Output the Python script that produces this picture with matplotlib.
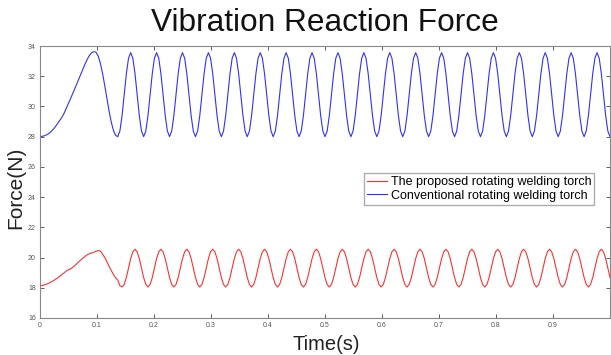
import numpy as np
import matplotlib
matplotlib.use("Agg")
import matplotlib.pyplot as plt

plt.rcParams['font.family'] = ['Liberation Sans', 'DejaVu Sans']

# sampled on a uniform time grid, 0 .. 1 s (265 samples)
time_s = np.linspace(0, 1, 265)

# conventional torch (blue)
force_conventional = [
    28.00, 28.02, 28.06, 28.12, 28.20, 28.32, 28.47, 28.64, 28.84, 29.03,
    29.25, 29.50, 29.82, 30.14, 30.47, 30.80, 31.14, 31.48, 31.82, 32.15,
    32.50, 32.85, 33.15, 33.40, 33.56, 33.63, 33.58, 33.32, 32.83, 32.17,
    31.37, 30.52, 29.69, 28.97, 28.42, 28.09, 28.00,
    28.37, 29.39, 30.78, 32.17, 33.19, 33.56, 33.19, 32.17, 30.78, 29.39, 28.37, 28.00,
    28.37, 29.39, 30.78, 32.17, 33.19, 33.56, 33.19, 32.17, 30.78, 29.39, 28.37, 28.00,
    28.37, 29.39, 30.78, 32.17, 33.19, 33.56, 33.19, 32.17, 30.78, 29.39, 28.37, 28.00,
    28.37, 29.39, 30.78, 32.17, 33.19, 33.56, 33.19, 32.17, 30.78, 29.39, 28.37, 28.00,
    28.37, 29.39, 30.78, 32.17, 33.19, 33.56, 33.19, 32.17, 30.78, 29.39, 28.37, 28.00,
    28.37, 29.39, 30.78, 32.17, 33.19, 33.56, 33.19, 32.17, 30.78, 29.39, 28.37, 28.00,
    28.37, 29.39, 30.78, 32.17, 33.19, 33.56, 33.19, 32.17, 30.78, 29.39, 28.37, 28.00,
    28.37, 29.39, 30.78, 32.17, 33.19, 33.56, 33.19, 32.17, 30.78, 29.39, 28.37, 28.00,
    28.37, 29.39, 30.78, 32.17, 33.19, 33.56, 33.19, 32.17, 30.78, 29.39, 28.37, 28.00,
    28.37, 29.39, 30.78, 32.17, 33.19, 33.56, 33.19, 32.17, 30.78, 29.39, 28.37, 28.00,
    28.37, 29.39, 30.78, 32.17, 33.19, 33.56, 33.19, 32.17, 30.78, 29.39, 28.37, 28.00,
    28.37, 29.39, 30.78, 32.17, 33.19, 33.56, 33.19, 32.17, 30.78, 29.39, 28.37, 28.00,
    28.37, 29.39, 30.78, 32.17, 33.19, 33.56, 33.19, 32.17, 30.78, 29.39, 28.37, 28.00,
    28.37, 29.39, 30.78, 32.17, 33.19, 33.56, 33.19, 32.17, 30.78, 29.39, 28.37, 28.00,
    28.37, 29.39, 30.78, 32.17, 33.19, 33.56, 33.19, 32.17, 30.78, 29.39, 28.37, 28.00,
    28.37, 29.39, 30.78, 32.17, 33.19, 33.56, 33.19, 32.17, 30.78, 29.39, 28.37, 28.00,
    28.37, 29.39, 30.78, 32.17, 33.19, 33.56, 33.19, 32.17, 30.78, 29.39, 28.37, 28.00,
    28.37, 29.39, 30.78, 32.17, 33.19, 33.56, 33.19, 32.17, 30.78, 29.39, 28.37, 28.00,
    28.37, 29.39, 30.78, 32.17, 33.19, 33.56, 33.19, 32.17, 30.78, 29.39, 28.37, 28.00,
]

# proposed torch (red)
force_proposed = [
    18.11, 18.15, 18.19, 18.24, 18.30, 18.37, 18.45, 18.54, 18.64, 18.74,
    18.85, 18.97, 19.09, 19.18, 19.24, 19.33, 19.46, 19.59, 19.72, 19.85,
    19.98, 20.09, 20.19, 20.26, 20.31, 20.35, 20.42, 20.47, 20.42, 20.22,
    20.00, 19.72, 19.42, 19.15, 18.88, 18.66, 18.52, 18.15, 18.05,
    18.22, 18.68, 19.30, 19.93, 20.38, 20.55, 20.38, 19.93, 19.30, 18.68, 18.22, 18.05,
    18.22, 18.68, 19.30, 19.93, 20.38, 20.55, 20.38, 19.93, 19.30, 18.68, 18.22, 18.05,
    18.22, 18.68, 19.30, 19.93, 20.38, 20.55, 20.38, 19.93, 19.30, 18.68, 18.22, 18.05,
    18.22, 18.68, 19.30, 19.93, 20.38, 20.55, 20.38, 19.93, 19.30, 18.68, 18.22, 18.05,
    18.22, 18.68, 19.30, 19.93, 20.38, 20.55, 20.38, 19.93, 19.30, 18.68, 18.22, 18.05,
    18.22, 18.68, 19.30, 19.93, 20.38, 20.55, 20.38, 19.93, 19.30, 18.68, 18.22, 18.05,
    18.22, 18.68, 19.30, 19.93, 20.38, 20.55, 20.38, 19.93, 19.30, 18.68, 18.22, 18.05,
    18.22, 18.68, 19.30, 19.93, 20.38, 20.55, 20.38, 19.93, 19.30, 18.68, 18.22, 18.05,
    18.22, 18.68, 19.30, 19.93, 20.38, 20.55, 20.38, 19.93, 19.30, 18.68, 18.22, 18.05,
    18.22, 18.68, 19.30, 19.93, 20.38, 20.55, 20.38, 19.93, 19.30, 18.68, 18.22, 18.05,
    18.22, 18.68, 19.30, 19.93, 20.38, 20.55, 20.38, 19.93, 19.30, 18.68, 18.22, 18.05,
    18.22, 18.68, 19.30, 19.93, 20.38, 20.55, 20.38, 19.93, 19.30, 18.68, 18.22, 18.05,
    18.22, 18.68, 19.30, 19.93, 20.38, 20.55, 20.38, 19.93, 19.30, 18.68, 18.22, 18.05,
    18.22, 18.68, 19.30, 19.93, 20.38, 20.55, 20.38, 19.93, 19.30, 18.68, 18.22, 18.05,
    18.22, 18.68, 19.30, 19.93, 20.38, 20.55, 20.38, 19.93, 19.30, 18.68, 18.22, 18.05,
    18.22, 18.68, 19.30, 19.93, 20.38, 20.55, 20.38, 19.93, 19.30, 18.68, 18.22, 18.05,
    18.22, 18.68, 19.30, 19.93, 20.38, 20.55, 20.38, 19.93, 19.30, 18.68, 18.22, 18.05,
    18.22, 18.68, 19.30, 19.93, 20.38, 20.55, 20.38, 19.93, 19.30, 18.68, 18.22, 18.05,
    18.22, 18.68, 19.30, 19.93, 20.38, 20.55, 20.38, 19.93, 19.30, 18.68,
]

series_labels = ['The proposed rotating welding torch', 'Conventional rotating welding torch']
x_ticks = [0, 0.1, 0.2, 0.3, 0.4, 0.5, 0.6, 0.7, 0.8, 0.9, 1.0]
x_tick_labels = ['0', '0.1', '0.2', '0.3', '0.4', '0.5', '0.6', '0.7', '0.8', '0.9', '']
y_ticks = [16, 18, 20, 22, 24, 26, 28, 30, 32, 34]

fig = plt.figure(figsize=(6.11, 3.55), dpi=100)
ax = fig.add_axes([40 / 611, 1 - 318 / 355, 570 / 611, 272 / 355])

ax.plot(time_s, force_proposed, color='#ff3030', lw=0.8, label=series_labels[0])
ax.plot(time_s, force_conventional, color='#3030ff', lw=0.8, label=series_labels[1])

ax.set_xlim(0, 1)
ax.set_ylim(16, 34)
ax.set_xticks(x_ticks)
ax.set_xticklabels(x_tick_labels)
ax.set_yticks(y_ticks)

# matlab-like box with inward ticks everywhere
ax.tick_params(direction='in', length=3, width=0.6, color='#444444',
               labelsize=5, labelcolor='#555555', pad=3,
               top=True, right=True)
for s in ax.spines.values():
    s.set_linewidth(0.8)
    s.set_color('#888888')

ax.legend(loc='upper left', bbox_to_anchor=(0.569, 0.534), fontsize=9,
          frameon=True, fancybox=False, edgecolor='#999999',
          handlelength=1.6, handletextpad=0.25, borderpad=0.25,
          labelspacing=0.15, borderaxespad=0)

fig.text(325 / 611, 1 - 23 / 355, 'Vibration Reaction Force', fontsize=22.8,
         ha='center', va='center', color='#111111')
fig.text(16 / 611, 1 - 188 / 355, 'Force(N)', fontsize=15, rotation=90,
         ha='center', va='center', color='#222222')
fig.text(326 / 611, 1 - 344 / 355, 'Time(s)', fontsize=14.5,
         ha='center', va='center', color='#222222')

fig.savefig('out.png', dpi=100)
